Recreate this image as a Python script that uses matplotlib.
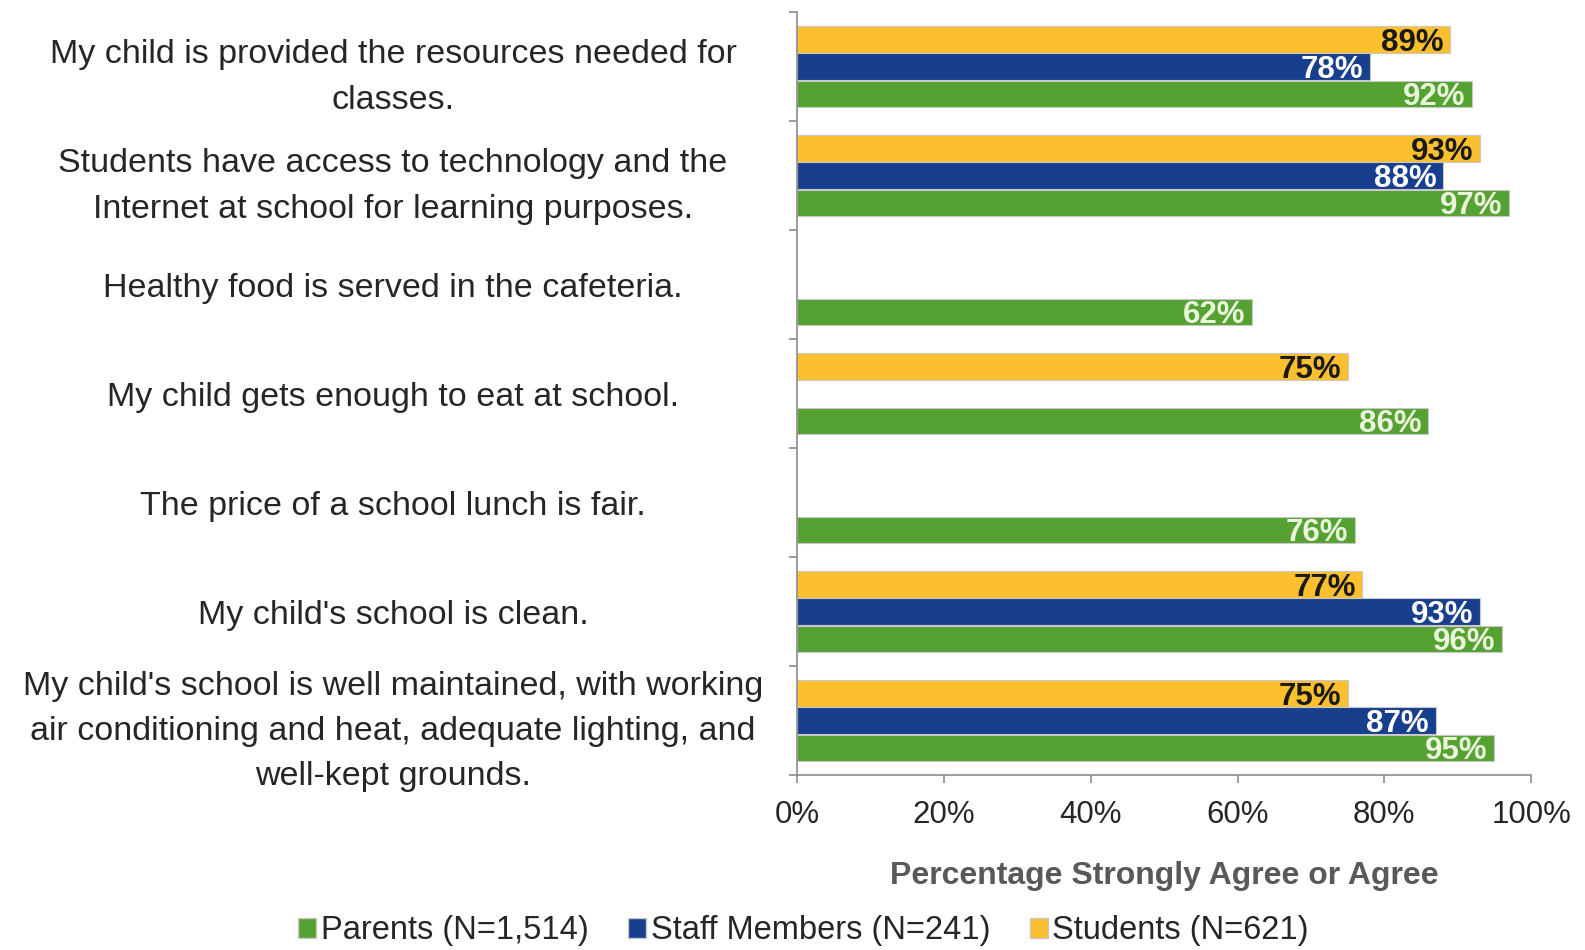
import numpy as np
import matplotlib
matplotlib.use("Agg")
import matplotlib.pyplot as plt
from matplotlib import font_manager
from matplotlib.patches import Patch

# survey items, top to bottom
categories = [
    "My child is provided the resources needed for\nclasses.",
    "Students have access to technology and the\nInternet at school for learning purposes.",
    "Healthy food is served in the cafeteria.",
    "My child gets enough to eat at school.",
    "The price of a school lunch is fair.",
    "My child's school is clean.",
    "My child's school is well maintained, with working\nair conditioning and heat, adequate lighting, and\nwell-kept grounds.",
]
students = [89, 93, None, 75, None, 77, 75]
staff = [78, 88, None, None, None, 93, 87]
parents = [92, 97, 62, 86, 76, 96, 95]

series_names = ["Parents (N=1,514)", "Staff Members (N=241)", "Students (N=621)"]
xticks = [0, 20, 40, 60, 80, 100]

names = {f.name for f in font_manager.fontManager.ttflist}
font = "Liberation Sans Narrow" if "Liberation Sans Narrow" in names else "Liberation Sans"
plt.rcParams["font.family"] = [font, "DejaVu Sans"]

GREEN = "#55A132"
BLUE = "#173F8E"
YELLOW = "#FCBF2E"
AXIS = "#8C8C8C"
TXT = "#262626"

fig = plt.figure(figsize=(15.85, 9.5), dpi=100)
ax = fig.add_axes([0.503, 0.184, 0.463, 0.803])

y = np.arange(len(categories))
h = 0.245
rows = [(students, -0.25, YELLOW, "#1a1a1a"),
        (staff, 0.0, BLUE, "white"),
        (parents, 0.25, GREEN, "#EAF6DC")]

for vals, off, col, lc in rows:
    for i, v in enumerate(vals):
        if v is None:
            continue
        ax.barh(y[i] + off, v, height=h, color=col, edgecolor="#C8C8C8", linewidth=0.8)
        ax.text(v - 0.9, y[i] + off + 0.03, f"{v}%", ha="right", va="center",
                fontsize=22.5, fontweight="bold", color=lc)

ax.set_xlim(0, 100)
ax.set_ylim(len(categories) - 0.5, -0.5)

ax.set_xticks(xticks)
ax.set_xticklabels([f"{t}%" for t in xticks], fontsize=22.5, color=TXT)
ax.set_yticks(y)
ax.set_yticklabels(categories, fontsize=24.5, color=TXT, linespacing=1.6)
for lab in ax.get_yticklabels():
    lab.set_ha("center")
    lab.set_multialignment("center")
ax.set_yticks(np.arange(len(categories) + 1) - 0.5, minor=True)
ax.tick_params(axis="y", which="major", length=0, pad=291)
ax.tick_params(axis="y", which="minor", length=6, color=AXIS, width=1.2, direction="out")
ax.tick_params(axis="x", length=6, color=AXIS, width=1.2, direction="out", pad=12)

for s in ["top", "right"]:
    ax.spines[s].set_visible(False)
for s in ["left", "bottom"]:
    ax.spines[s].set_color(AXIS)
    ax.spines[s].set_linewidth(1.2)

ax.set_xlabel("Percentage Strongly Agree or Agree", fontsize=23, fontweight="bold",
              color="#595959", labelpad=22)

handles = [Patch(facecolor=c, edgecolor="#C8C8C8") for c in (GREEN, BLUE, YELLOW)]
fig.legend(handles, series_names, loc="center", bbox_to_anchor=(0.507, 0.02), ncol=3,
           frameon=False, fontsize=23.5, handlelength=0.55, handleheight=0.55,
           handletextpad=0.15, columnspacing=1.2, labelcolor=TXT)

fig.savefig("out.png", dpi=100, facecolor="white")
